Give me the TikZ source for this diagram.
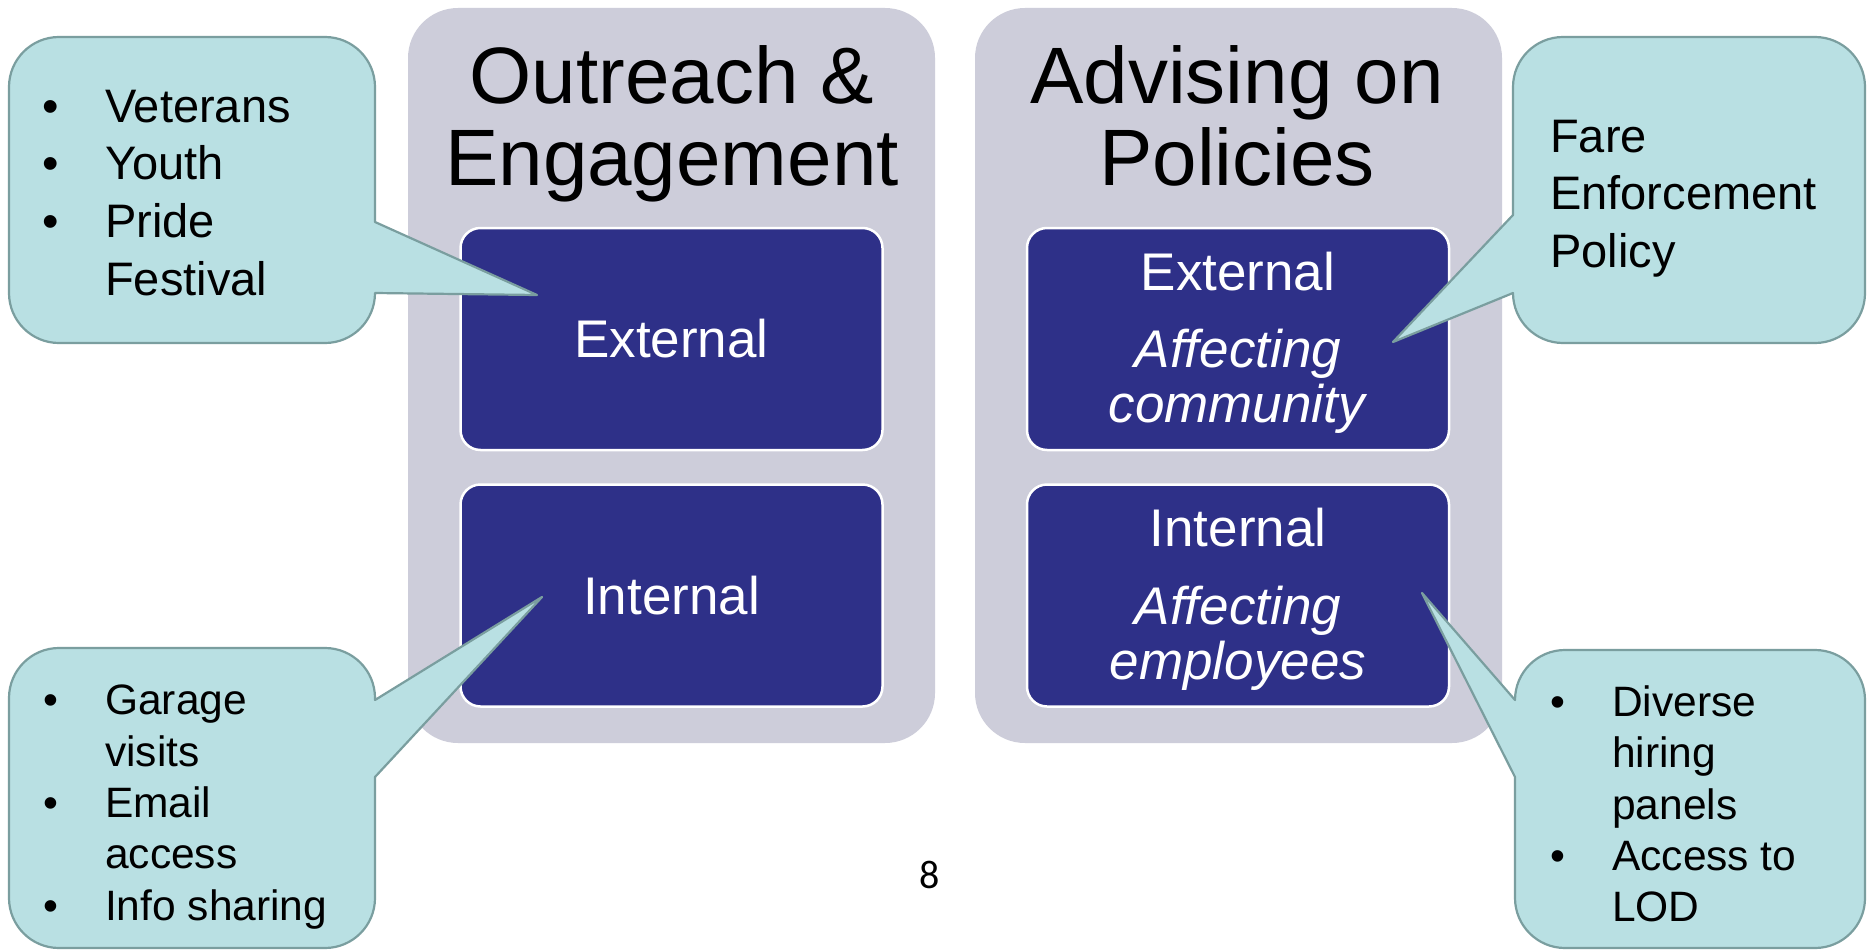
\documentclass[tikz,border=0pt]{standalone}
\usepackage{fontspec}
\setmainfont{Liberation Sans}
\newfontfamily\numfont{Carlito}
\definecolor{panelgray}{RGB}{205,205,218}
\definecolor{boxblue}{RGB}{46,48,136}
\definecolor{calloutfill}{RGB}{185,224,227}
\definecolor{calloutline}{RGB}{122,158,159}
% invisible strut that fixes the top of the first line at 0.8em above its baseline
\newcommand\topstrut{\rule{0pt}{0.8em}}
% taller strut that lowers the three-line box texts a little
\newcommand\boxstrut{\rule{0pt}{45.8pt}}
% bullet centred on the left edge, item text 54pt further right
\newcommand\bul{\makebox[0pt]{\textbullet}\hspace*{54pt}}
\newcommand\ind{\hspace*{54pt}}
\begin{document}
\begin{tikzpicture}[x=1pt,y=-1pt,
  panel/.style={fill=panelgray, rounded corners=50pt, inner sep=0pt,
    minimum width=527pt, minimum height=735pt},
  heading/.style={font=\fontsize{80}{82}\selectfont, align=center,
    anchor=north, inner sep=0pt},
  topic/.style={fill=boxblue, draw=white, line width=2.5pt, rounded corners=20pt,
    minimum width=422pt, minimum height=222pt, inner sep=0pt, text=white,
    font=\fontsize{53}{55}\selectfont, align=center},
  callout/.style={fill=calloutfill, draw=calloutline, line width=2.2pt,
    line join=round},
  bignote/.style={font=\fontsize{47}{57.7}\selectfont, align=left,
    anchor=north west, inner sep=0pt},
  smallnote/.style={font=\fontsize{42.5}{51.4}\selectfont, align=left,
    anchor=north west, inner sep=0pt}]

\fill[white] (0,0) rectangle (1868,950);
\useasboundingbox (0,0) rectangle (1868,950);

% the two grey columns
\node[panel] (outreach) at (671.5,375.5) {};
\node[panel] (advising) at (1238.5,375.5) {};

\node[heading] (outreach-title) at (672,39) {\topstrut Outreach \&\\Engagement};
\node[heading] (advising-title) at (1237,39) {\topstrut Advising on\\Policies};

% blue topic boxes
\node[topic] (o-ext) at (671.5,339) {External};
\node[topic] (o-int) at (671.5,595.5) {Internal};
\node[topic] (a-ext) at (1238,339)
  {\boxstrut External\\[22.4pt]\textit{Affecting}\\\textit{community}};
\node[topic] (a-int) at (1238,595.5)
  {\boxstrut Internal\\[22.4pt]\textit{Affecting}\\\textit{employees}};

% speech-bubble callouts, each with its pointer
\draw[callout] (190,343) [rounded corners=50pt] -- (9,343) -- (9,37) -- (375,37)
  [sharp corners] -- (375,222) -- (537,295) -- (375,293)
  [rounded corners=50pt] -- (375,343) -- cycle;
\draw[callout] (1690,37) [rounded corners=50pt] -- (1865,37) -- (1865,343) -- (1513,343)
  [sharp corners] -- (1513,293) -- (1393,342) -- (1513,215)
  [rounded corners=50pt] -- (1513,37) -- cycle;
\draw[callout] (190,948) [rounded corners=50pt] -- (9,948) -- (9,648) -- (375,648)
  [sharp corners] -- (375,700) -- (542,597) -- (375,777)
  [rounded corners=50pt] -- (375,948) -- cycle;
\draw[callout] (1690,650) [rounded corners=50pt] -- (1865,650) -- (1865,948) -- (1515,948)
  [sharp corners] -- (1515,777) -- (1422,593) -- (1515,700)
  [rounded corners=50pt] -- (1515,650) -- cycle;

% callout texts
\node[bignote] (note-outreach-ext) at (51,84.4)
  {\topstrut\bul Veterans\\\bul Youth\\\bul Pride\\\ind Festival};
\node[bignote] (note-advising-ext) at (1550,114.4)
  {\topstrut Fare\\Enforcement\\Policy};
\node[smallnote] (note-outreach-int) at (51,680.5)
  {\topstrut\bul Garage\\\ind visits\\\bul Email\\\ind access\\\bul Info sharing};
\node[smallnote] (note-advising-int) at (1558,682)
  {\topstrut\bul Diverse\\\ind hiring\\\ind panels\\\bul Access to\\\ind LOD};

% page number
\node[font=\numfont\fontsize{40}{40}\selectfont, anchor=base, inner sep=0pt]
  (pagenum) at (930,888) {8};
\end{tikzpicture}
\end{document}
